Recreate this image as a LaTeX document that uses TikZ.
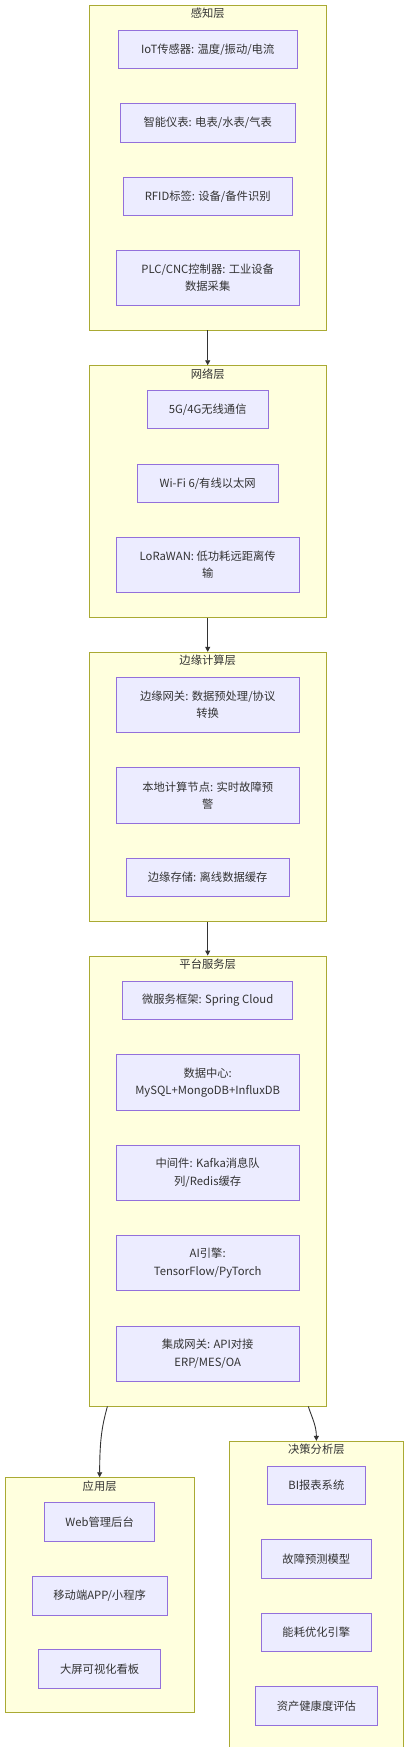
\documentclass[tikz,border=0pt]{standalone}
\usepackage{fontspec}
\setmainfont{Noto Sans CJK SC}
\usetikzlibrary{arrows.meta}
\definecolor{layerfill}{HTML}{FFFFDE}
\definecolor{layerline}{HTML}{AAAA33}
\definecolor{itemfill}{HTML}{ECECFF}
\definecolor{itemline}{HTML}{9370DB}
\definecolor{inkgray}{HTML}{333333}

\begin{document}
\begin{tikzpicture}[
	x=1pt,
	y=-1pt,
	font=\fontsize{11.3}{17.3}\selectfont,
	text=inkgray,
	layer/.style={draw=layerline, fill=layerfill, line width=0.9pt, inner sep=0pt},
	layertitle/.style={inner sep=0pt},
	item/.style={draw=itemline, fill=itemfill, line width=0.9pt, align=center, inner sep=0pt},
	flow/.style={draw=inkgray, line width=0.9pt, -{Triangle[length=5pt,width=5pt]}}
	]
	\useasboundingbox (0,0) rectangle (409,1747);
	\clip (0,0) rectangle (409,1747);

	% --- layers ---
	\node[layer, minimum width=236.5pt, minimum height=325pt]   (percept)  at (207.7,167.5)   {};
	\node[layer, minimum width=236.7pt, minimum height=251.6pt] (network)  at (207.7,491.5)   {};
	\node[layer, minimum width=236.7pt, minimum height=269.4pt] (edge)     at (207.7,787)     {};
	\node[layer, minimum width=236.7pt, minimum height=450pt]   (platform) at (207.7,1181)    {};
	\node[layer, minimum width=188.7pt, minimum height=235pt]   (app)      at (99.65,1595.2)  {};
	\node[layer, minimum width=174.7pt, minimum height=308.1pt] (decision) at (316.35,1595.35) {};

	\node[layertitle] (tpercept)  at ([yshift=-9pt]percept.north)  {感知层};
	\node[layertitle] (tnetwork)  at ([yshift=-8.5pt]network.north)  {网络层};
	\node[layertitle] (tedge)     at ([yshift=-8.5pt]edge.north)     {边缘计算层};
	\node[layertitle] (tplatform) at ([yshift=-8.5pt]platform.north) {平台服务层};
	\node[layertitle] (tapp)      at ([yshift=-8.5pt]app.north)      {应用层};
	\node[layertitle] (tdecision) at ([yshift=-8.5pt]decision.north) {决策分析层};

	% --- 感知层 ---
	\foreach \i/\y/\w/\h/\t in {
		1/49.5/179/37.6/{IoT传感器: 温度/振动/电流},
		2/122.85/175/38.3/{智能仪表: 电表/水表/气表},
		3/196.3/169/38/{RFID标签: 设备/备件识别},
		4/277.8/183.4/55/{PLC/CNC控制器: 工业设备\\数据采集}} {
		\node[item, minimum width=\w pt, minimum height=\h pt] (p\i) at (207.7,\y) {\t};
	}

	% --- 网络层 ---
	\foreach \i/\y/\w/\h/\t in {
		1/409.5/121.4/38.4/{5G/4G无线通信},
		2/483.5/141.4/38.4/{Wi-Fi 6/有线以太网},
		3/565/183.4/55.4/{LoRaWAN: 低功耗远距离传\\输}} {
		\node[item, minimum width=\w pt, minimum height=\h pt] (n\i) at (207.7,\y) {\t};
	}

	% --- 边缘计算层 ---
	\foreach \i/\y/\w/\h/\t in {
		1/704.8/183.4/55/{边缘网关: 数据预处理/协议\\转换},
		2/795.35/183.4/55.3/{本地计算节点: 实时故障预\\警},
		3/877.5/163/38.4/{边缘存储: 离线数据缓存}} {
		\node[item, minimum width=\w pt, minimum height=\h pt] (e\i) at (207.7,\y) {\t};
	}

	% --- 平台服务层 ---
	\foreach \i/\y/\w/\h/\t in {
		1/1000.5/170/38.4/{微服务框架: Spring Cloud},
		2/1082.35/183.4/55.3/{数据中心:\\MySQL+MongoDB+InfluxDB},
		3/1172.8/183.4/55/{中间件: Kafka消息队\\列/Redis缓存},
		4/1263/183.4/55.4/{AI引擎:\\TensorFlow/PyTorch},
		5/1353.85/183.4/55.7/{集成网关: API对接\\ERP/MES/OA}} {
		\node[item, minimum width=\w pt, minimum height=\h pt] (s\i) at (207.7,\y) {\t};
	}

	% --- 应用层 ---
	\foreach \i/\y/\w/\t in {
		1/1522/109.7/{Web管理后台},
		2/1595.65/135.3/{移动端APP/小程序},
		3/1669/121.7/{大屏可视化看板}} {
		\node[item, minimum width=\w pt, minimum height=38.6pt] (a\i) at (99.65,\y) {\t};
	}

	% --- 决策分析层 ---
	\foreach \i/\y/\w/\t in {
		1/1485.35/97.7/{BI报表系统},
		2/1558.85/110.4/{故障预测模型},
		3/1632.35/110.4/{能耗优化引擎},
		4/1705.85/121.7/{资产健康度评估}} {
		\node[item, minimum width=\w pt, minimum height=38.5pt] (d\i) at (316.35,\y) {\t};
	}

	% --- flows between layers ---
	\draw[flow] (percept.south) -- (network.north);
	\draw[flow] (network.south) -- (edge.north);
	\draw[flow] (edge.south) -- (platform.north);
	\draw[flow] ([xshift=-100.3pt]platform.south)
		.. controls +(-5.3,19) and +(0,-37.7) .. (app.north);
	\draw[flow] ([xshift=100.6pt]platform.south)
		.. controls +(4,12) and +(0,-15) .. (decision.north);
\end{tikzpicture}
\end{document}
